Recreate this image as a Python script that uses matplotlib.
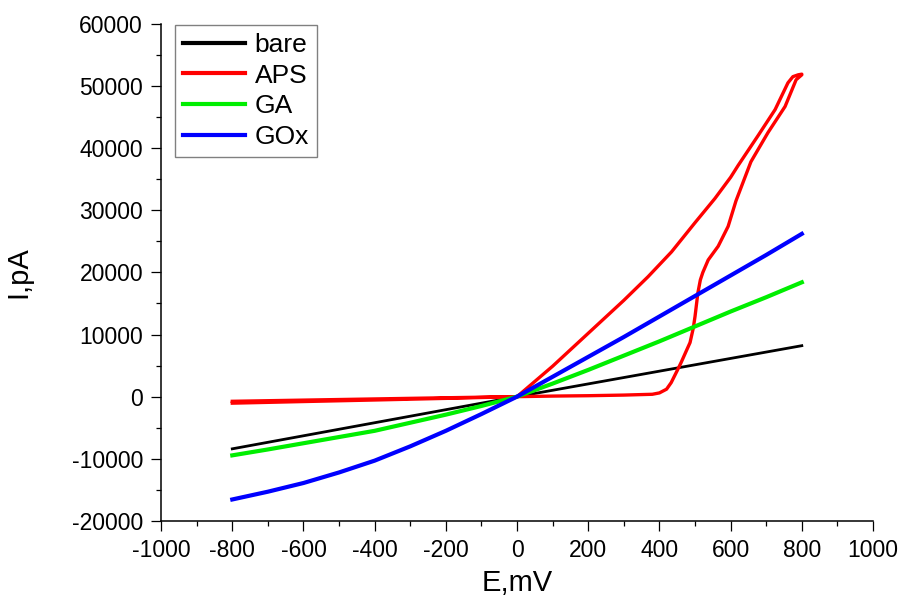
import numpy as np
import matplotlib.pyplot as plt
from matplotlib.ticker import MultipleLocator

plt.rcParams['font.family'] = ['Liberation Sans', 'DejaVu Sans']
plt.rcParams['axes.unicode_minus'] = False

# bare electrode
E_bare = [-800, -600, -400, -200, 0, 200, 400, 600, 800]
I_bare = [-8400, -6300, -4200, -2100, 0, 2050, 4100, 6150, 8200]

# GA
E_ga = [-800, -700, -600, -500, -400, -300, -200, -100, 0, 100, 200, 300, 400, 500, 600, 700, 800]
I_ga = [-9450, -8500, -7500, -6500, -5500, -4200, -2900, -1500, 0, 2100, 4300, 6600, 8900, 11300, 13700, 16000, 18400]

# GOx
E_gox = [-800, -700, -600, -500, -400, -300, -200, -100, 0, 100, 200, 300, 400, 500, 600, 700, 800]
I_gox = [-16550, -15300, -13900, -12200, -10300, -8000, -5500, -2800, 0, 3200, 6400, 9600, 12900, 16200, 19500, 22800, 26200]

# APS, forward sweep then back
E_aps_fwd = [-800, -600, -400, -200, 0, 100, 200, 300, 380, 400, 420, 433, 450, 461, 475, 486,
             495, 500, 508, 515, 522, 537, 565, 593, 615, 657, 705, 753, 784, 800]
I_aps_fwd = [-750, -560, -370, -180, 0, 90, 150, 250, 380, 600, 1200, 2250, 4200, 5500, 7300, 8700,
             11000, 12900, 16700, 18800, 20000, 22000, 24200, 27400, 31500, 37800, 42500, 46700, 51000, 51800]
E_aps_rev = [800, 790, 775, 761, 725, 677, 621, 600, 556, 500, 434, 368, 300, 200, 100, 0,
             -200, -400, -600, -800]
I_aps_rev = [51900, 51800, 51500, 50500, 46200, 42000, 37200, 35300, 31900, 28000, 23300, 19300,
             15500, 10200, 4900, 0, -280, -540, -790, -1050]

fig = plt.figure(figsize=(9, 5.96), dpi=100)
ax = fig.add_axes([0.179, 0.126, 0.791, 0.834])

ax.plot(E_bare, I_bare, color='black', linewidth=2.0, label='bare')
ax.plot(E_aps_fwd + E_aps_rev, I_aps_fwd + I_aps_rev, color='#ff0000', linewidth=2.4, label='APS')
ax.plot(E_ga, I_ga, color='#00ee00', linewidth=3.0, label='GA')
ax.plot(E_gox, I_gox, color='#0000ff', linewidth=3.0, label='GOx')

ax.set_xlim(-1000, 1000)
ax.set_ylim(-20000, 60000)
ax.xaxis.set_major_locator(MultipleLocator(200))
ax.xaxis.set_minor_locator(MultipleLocator(100))
ax.yaxis.set_major_locator(MultipleLocator(10000))
ax.yaxis.set_minor_locator(MultipleLocator(5000))

ax.spines['top'].set_visible(False)
ax.spines['right'].set_visible(False)
ax.spines['left'].set_linewidth(1.1)
ax.spines['bottom'].set_linewidth(1.1)
ax.tick_params(which='major', direction='out', length=7, width=0.9, labelsize=16.5, pad=6)
ax.tick_params(which='minor', direction='out', length=3.5, width=0.9)

ax.set_xlabel('E,mV', fontsize=21, labelpad=5)
ax.set_ylabel('I,pA', fontsize=21, labelpad=28)

leg = ax.legend(loc='upper left', bbox_to_anchor=(0.02, 0.998), fontsize=19, frameon=True,
                fancybox=False, handlelength=2.35, handletextpad=0.35, labelspacing=0.26,
                borderpad=0.3, borderaxespad=0, framealpha=1)
leg.get_frame().set_edgecolor('#808080')
leg.get_frame().set_linewidth(1.0)
for line in leg.get_lines():
    line.set_linewidth(3.0)

plt.savefig('out.png', dpi=100)
plt.close()
